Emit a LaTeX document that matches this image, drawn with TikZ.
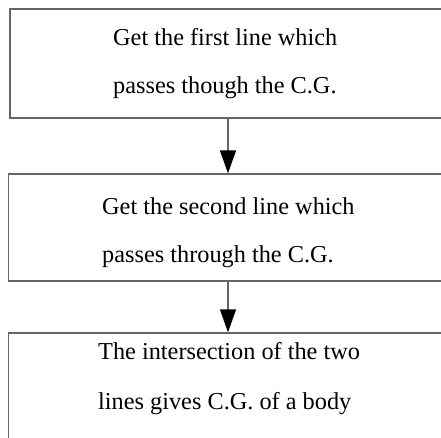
\documentclass[tikz,border=0pt]{standalone}
\usepackage{fontspec}
\setmainfont{Liberation Serif}
\usetikzlibrary{arrows.meta}
\begin{document}
\begin{tikzpicture}[x=1pt,y=-1pt,
  boxstyle/.style={draw=black!60,line width=1.3pt,rectangle,inner sep=0pt,minimum width=470pt,minimum height=#1},
  txt/.style={anchor=base west,inner sep=0pt,font=\fontsize{24.3}{29}\selectfont},
  arr/.style={draw=black!60,line width=1.3pt,-{Triangle[length=23pt,width=16pt,fill=black,color=black]}}]
\useasboundingbox (0,0) rectangle (441,437);
\clip (0,0) rectangle (441,437);
\node[boxstyle=109pt] (box1) at (245,63.5) {};
\node[boxstyle=107pt] (box2) at (243.5,227.5) {};
\node[boxstyle=140pt] (box3) at (243.5,403) {};
\node[txt] (t1a) at (113,45) {Get the first line which};
\node[txt] (t1b) at (113,93) {passes though the C.G.};
\node[txt] (t2a) at (102,214) {Get the second line which};
\node[txt] (t2b) at (102,262) {passes through the C.G.};
\node[txt] (t3a) at (98,359) {The intersection of the two};
\node[txt] (t3b) at (98,409) {lines gives C.G. of a body};
\coordinate (ax) at (228,0);
\draw[arr] (box1.south -| ax) -- (box2.north -| ax);
\draw[arr] (box2.south -| ax) -- (box3.north -| ax);
\end{tikzpicture}
\end{document}
